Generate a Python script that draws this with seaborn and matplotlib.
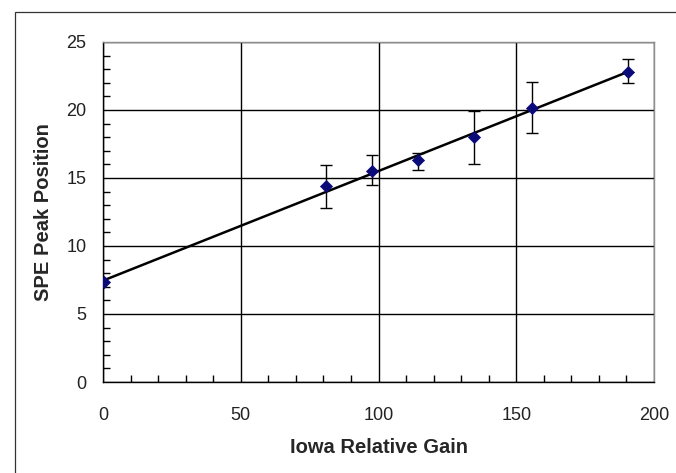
import numpy as np
import matplotlib
matplotlib.use('Agg')
import matplotlib.pyplot as plt
import seaborn as sns
from matplotlib.patches import Rectangle
from matplotlib.ticker import MultipleLocator

# SPE peak position vs Iowa relative gain
gain = [0.5, 81.1, 97.7, 114.3, 134.5, 155.6, 190.4]
peak = [7.35, 14.41, 15.54, 16.32, 17.99, 20.12, 22.82]
peak_lo = [np.nan, 12.77, 14.46, 15.59, 16.03, 18.28, 21.96]
peak_hi = [np.nan, 15.96, 16.69, 16.86, 19.93, 22.03, 23.73]

sns.set_style('white')
plt.rcParams['font.family'] = ['Liberation Sans', 'DejaVu Sans']

fig = plt.figure(figsize=(6.76, 4.73), dpi=100)
ax = fig.add_axes([103/676, 91/473, 551/676, 340/473])

# outer frame (only left/top visible)
fig.add_artist(Rectangle((15/676, -0.2), 1.2, (473 - 12)/473 + 0.2,
                         transform=fig.transFigure, fill=False,
                         edgecolor='#333333', linewidth=0.9))

# error bars
g = np.array(gain)
p = np.array(peak)
lo = np.array(peak_lo)
hi = np.array(peak_hi)
m = ~np.isnan(lo)
ax.errorbar(g[m], p[m], yerr=[p[m] - lo[m], hi[m] - p[m]], fmt='none',
            ecolor='black', elinewidth=1.0, capsize=4, capthick=1.0, zorder=3)

# linear fit
sns.regplot(x=gain, y=peak, ci=None, scatter=False, ax=ax,
            line_kws=dict(color='black', linewidth=1.8, zorder=4))

sns.scatterplot(x=gain, y=peak, marker='D', s=38, color='#0a0a78',
                edgecolor='#0a0a78', ax=ax, zorder=5)

ax.set_xlim(0, 200)
ax.set_ylim(0, 25)
ax.xaxis.set_major_locator(MultipleLocator(50))
ax.xaxis.set_minor_locator(MultipleLocator(10))
ax.yaxis.set_major_locator(MultipleLocator(5))
ax.yaxis.set_minor_locator(MultipleLocator(1))
ax.grid(True, which='major', color='black', linewidth=1.0)
ax.set_axisbelow(True)

ax.tick_params(which='major', length=0, labelsize=13, colors='#222222')
ax.tick_params(axis='x', which='major', pad=18)
ax.tick_params(axis='y', which='major', pad=12)
ax.tick_params(which='minor', direction='in', length=5, width=1,
               color='black', bottom=True, left=True, top=False, right=False)

for s in ['left', 'bottom']:
    ax.spines[s].set_color('black')
    ax.spines[s].set_linewidth(1.0)
for s in ['top', 'right']:
    ax.spines[s].set_color('#8c8c8c')
    ax.spines[s].set_linewidth(1.0)

ax.set_xlabel('Iowa Relative Gain', fontsize=14.5, fontweight='bold')
ax.set_ylabel('SPE Peak Position', fontsize=14.5, fontweight='bold')
ax.xaxis.set_label_coords(0.5, -0.165)
ax.yaxis.set_label_coords(-0.09, 0.5)

fig.savefig('out.png', dpi=100)
